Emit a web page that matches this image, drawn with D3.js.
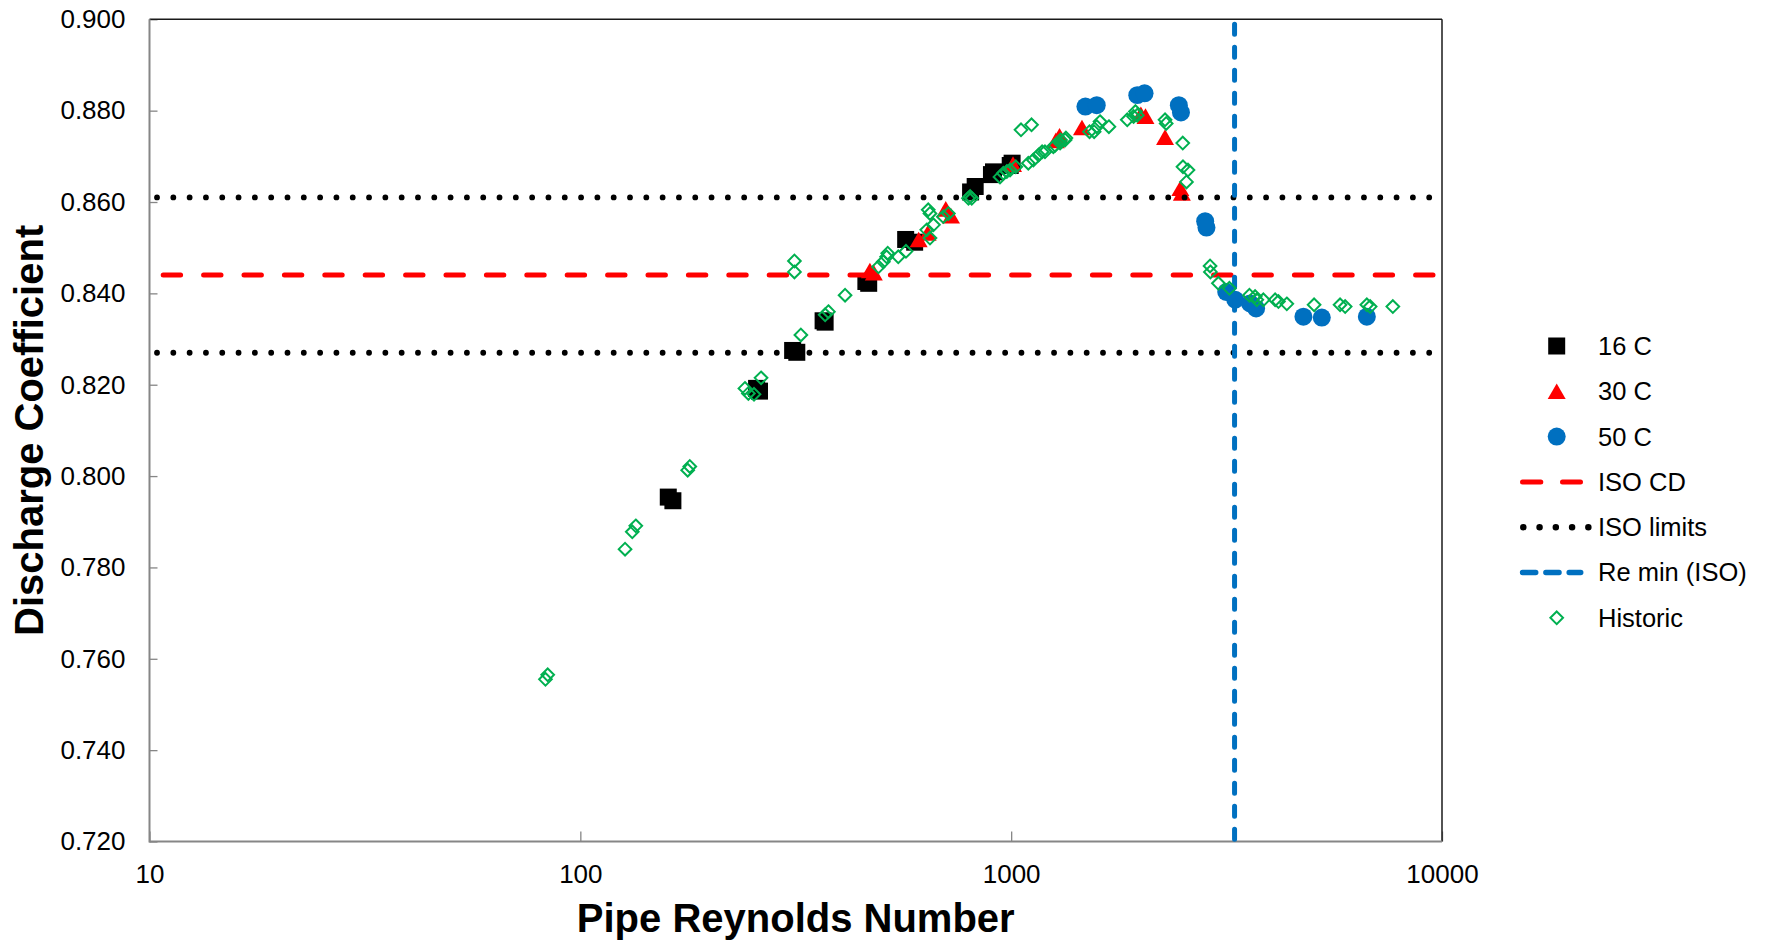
<!DOCTYPE html>
<html><head><meta charset="utf-8">
<script src="https://cdn.jsdelivr.net/npm/d3@7"></script>
<style>
body{margin:0;background:#fff;}
svg{display:block;font-family:"Liberation Sans",Arial,Helvetica,sans-serif;}
</style>
</head><body>
<svg id="chart" width="1769" height="942"></svg>
<script>
// ---------- data ----------
const xTickValues = [10, 100, 1000, 10000];
const yTickValues = [0.72, 0.74, 0.76, 0.78, 0.80, 0.82, 0.84, 0.86, 0.88, 0.90];

// [Pipe Reynolds Number, Discharge Coefficient]
const series16C = [
  [160, 0.7954], [164, 0.7946], [256.5, 0.8192], [260.5, 0.8186],
  [311, 0.8275], [318, 0.8271], [366, 0.8340], [370, 0.8337],
  [460, 0.8426], [467, 0.8422], [569, 0.8518], [597, 0.8512],
  [805, 0.8622], [825, 0.8634], [900, 0.8660], [910, 0.8666],
  [995, 0.8680], [1005, 0.8685]
];
const series30C = [
  [470, 0.8450], [480, 0.8445], [610, 0.8518], [640, 0.8532],
  [705, 0.8585], [725, 0.8570], [1010, 0.8683], [1270, 0.8735],
  [1295, 0.8745], [1460, 0.8763], [2000, 0.8792], [2050, 0.8788],
  [2276, 0.8742], [2470, 0.8630], [2490, 0.8620]
];
const series50C = [
  [1487, 0.8809], [1580, 0.8812], [1962, 0.8834], [2040, 0.8838],
  [2450, 0.8812], [2478, 0.8796], [2820, 0.8558], [2840, 0.8544],
  [3156, 0.8403], [3312, 0.8386], [3585, 0.8378], [3703, 0.8367],
  [4768, 0.8349], [5260, 0.8347], [6692, 0.8349]
];
const historic = [
  [83, 0.7555], [84, 0.7565], [127, 0.7840], [132, 0.7878], [134.5, 0.7891],
  [177.5, 0.8013], [179.5, 0.8021], [241, 0.8192], [245.5, 0.8181], [253, 0.8179],
  [262.7, 0.8215], [314, 0.8471], [314, 0.8447], [325, 0.8309], [370, 0.8353],
  [376.5, 0.8360], [411.6, 0.8396], [492, 0.8458], [505, 0.8469], [514, 0.8480],
  [517, 0.8488], [547, 0.8480], [570, 0.8492], [637, 0.8539], [648, 0.8521],
  [642, 0.8583], [648, 0.8575], [660, 0.8550], [696, 0.8568], [715, 0.8575],
  [796, 0.8608], [803, 0.8612], [810, 0.8608], [942, 0.8655], [959, 0.8663],
  [977, 0.8667], [994, 0.8670], [1025, 0.8677], [1054, 0.8758], [1115, 0.8769],
  [1096, 0.8685], [1126, 0.8692], [1158, 0.8703], [1180, 0.8710], [1198, 0.8710],
  [1253, 0.8721], [1265, 0.8724], [1299, 0.8729], [1302, 0.8736], [1334, 0.8736],
  [1340, 0.8740], [1520, 0.8754], [1558, 0.8754], [1580, 0.8765], [1608, 0.8776],
  [1686, 0.8765], [1860, 0.8780], [1924, 0.8787], [1943, 0.8798], [1962, 0.8790],
  [2276, 0.8780], [2290, 0.8772], [2502, 0.8729], [2505, 0.8677], [2573, 0.8670],
  [2552, 0.8644], [2895, 0.8460], [2900, 0.8447], [3027, 0.8422], [3210, 0.8411],
  [3573, 0.8396], [3683, 0.8393], [3716, 0.8386], [3849, 0.8386], [4099, 0.8386],
  [4172, 0.8382], [4363, 0.8377], [5048, 0.8375], [5800, 0.8375], [5960, 0.8371],
  [6692, 0.8375], [6812, 0.8371], [7689, 0.8371]
];
const isoCD = 0.844;
const isoLimits = [0.827, 0.861];
const reMinISO = 3300;
const lineSpanRe = [10, 10000];
const legendLabels = ["16 C", "30 C", "50 C", "ISO CD", "ISO limits", "Re min (ISO)", "Historic"];

(function () {
// ---------- layout ----------
const pL = 149.5, pR = 1442, pT = 19.3, pB = 841.5;
const svg = d3.select("#chart");
const x = d3.scaleLog().domain([10, 10000]).range([pL, pR]);
const y = d3.scaleLinear().domain([0.72, 0.90]).range([pB, pT]);

const colors = {black: "#000000", red: "#FF0000", blue: "#0070C0", green: "#00B050"};

// ---------- axes ----------
const yAxis = d3.axisLeft(y).tickValues(yTickValues).tickFormat(d3.format(".3f"))
  .tickSizeInner(-8).tickSizeOuter(0).tickPadding(24);
const gy = svg.append("g").attr("transform", `translate(${pL},0)`).call(yAxis);
const xAxis = d3.axisBottom(x).tickValues(xTickValues).tickFormat(d3.format("d"))
  .tickSizeInner(-10).tickSizeOuter(0).tickPadding(22.7);
const gx = svg.append("g").attr("transform", `translate(0,${pB})`).call(xAxis);
[gx, gy].forEach(g => {
  g.select(".domain").remove();
  g.selectAll(".tick line").attr("stroke", "#868686").attr("stroke-width", 1.3);
  g.selectAll(".tick text").attr("fill", "#000").style("font-size", "26px")
    .style("font-family", "'Liberation Sans',Arial,sans-serif");
});

// frame
svg.append("line").attr("x1", pL).attr("x2", pR).attr("y1", pT).attr("y2", pT)
  .attr("stroke", "#1a1a1a").attr("stroke-width", 1.5);
svg.append("line").attr("x1", pR).attr("x2", pR).attr("y1", pT).attr("y2", pB)
  .attr("stroke", "#1a1a1a").attr("stroke-width", 1.5);
svg.append("line").attr("x1", pL).attr("x2", pL).attr("y1", pT).attr("y2", pB + 1)
  .attr("stroke", "#868686").attr("stroke-width", 2);
svg.append("line").attr("x1", pL).attr("x2", pR).attr("y1", pB).attr("y2", pB)
  .attr("stroke", "#868686").attr("stroke-width", 2);

// titles
svg.append("text").attr("x", (pL + pR) / 2).attr("y", 932)
  .attr("text-anchor", "middle").style("font-size", "40px").style("font-weight", "bold")
  .text("Pipe Reynolds Number");
svg.append("text").attr("transform", `translate(43,${(pT + pB) / 2}) rotate(-90)`)
  .attr("text-anchor", "middle").style("font-size", "40px").style("font-weight", "bold")
  .text("Discharge Coefficient");

// ---------- symbols ----------
const diamondType = {
  draw(ctx, size) {
    const r = Math.sqrt(size / 2);
    ctx.moveTo(0, -r); ctx.lineTo(r, 0); ctx.lineTo(0, r); ctx.lineTo(-r, 0); ctx.closePath();
  }
};
const sym = {
  square: d3.symbol().type(d3.symbolSquare).size(289)(),
  triangle: d3.symbol().type(d3.symbolTriangle).size(140)(),
  circle: d3.symbol().type(d3.symbolCircle).size(254)(),
  diamond: d3.symbol().type(diamondType).size(80)()
};
const triShift = Math.sqrt(140 / (Math.sqrt(3) * 3)) / 2;

function drawPoints(data, path, fill, stroke, dy) {
  svg.append("g").selectAll("path").data(data).join("path")
    .attr("d", path)
    .attr("transform", d => `translate(${x(d[0])},${y(d[1]) + (dy || 0)})`)
    .attr("fill", fill)
    .attr("stroke", stroke || "none")
    .attr("stroke-width", stroke ? 2 : 0);
}
drawPoints(series16C, sym.square, colors.black);
drawPoints(series30C, sym.triangle, colors.red, null, triShift);
drawPoints(series50C, sym.circle, colors.blue);

// ---------- reference lines ----------
const hLine = (val, color, dash, width, offset) => svg.append("line")
  .attr("x1", x(lineSpanRe[0])).attr("x2", x(lineSpanRe[1]))
  .attr("y1", y(val)).attr("y2", y(val))
  .attr("stroke", color).attr("stroke-width", width)
  .attr("stroke-dasharray", dash).attr("stroke-dashoffset", offset)
  .attr("stroke-linecap", "round");
hLine(isoCD, colors.red, "17.4,23", 5, 26.7);
isoLimits.forEach(v => hLine(v, colors.black, "0.01,16.3", 5.8, 8.8));
svg.append("line")
  .attr("x1", x(reMinISO)).attr("x2", x(reMinISO))
  .attr("y1", y(0.90)).attr("y2", y(0.72))
  .attr("stroke", colors.blue).attr("stroke-width", 5)
  .attr("stroke-dasharray", "10,13").attr("stroke-dashoffset", 18.1)
  .attr("stroke-linecap", "round");

drawPoints(historic, sym.diamond, "none", colors.green);

// ---------- legend ----------
const legY0 = 346, legStep = 45.3, legSymX = 1556.7, legTextX = 1598;
const lg = svg.append("g");
const L = (i) => legY0 + i * legStep;
legendLabels.forEach((label, i) => {
  lg.append("text").attr("x", legTextX).attr("y", L(i)).attr("dy", "0.35em")
    .style("font-size", "25.5px").attr("fill", "#000").text(label);
});
lg.append("path").attr("d", sym.square).attr("transform", `translate(${legSymX},${L(0)})`).attr("fill", colors.black);
lg.append("path").attr("d", sym.triangle).attr("transform", `translate(${legSymX},${L(1) + triShift})`).attr("fill", colors.red);
lg.append("path").attr("d", sym.circle).attr("transform", `translate(${legSymX},${L(2)})`).attr("fill", colors.blue);
lg.append("line").attr("x1", 1522.5).attr("x2", 1580.5).attr("y1", L(3)).attr("y2", L(3))
  .attr("stroke", colors.red).attr("stroke-width", 5).attr("stroke-linecap", "round")
  .attr("stroke-dasharray", "18.3,21.7");
lg.append("line").attr("x1", 1523.3).attr("x2", 1590).attr("y1", L(4)).attr("y2", L(4))
  .attr("stroke", colors.black).attr("stroke-width", 6.5).attr("stroke-linecap", "round")
  .attr("stroke-dasharray", "0.01,16.25");
lg.append("line").attr("x1", 1522.5).attr("x2", 1580.8).attr("y1", L(5)).attr("y2", L(5))
  .attr("stroke", colors.blue).attr("stroke-width", 5.3).attr("stroke-linecap", "round")
  .attr("stroke-dasharray", "13.3,10");
lg.append("path").attr("d", sym.diamond).attr("transform", `translate(${legSymX},${L(6)})`)
  .attr("fill", "none").attr("stroke", colors.green).attr("stroke-width", 2);
})();
</script>
</body></html>
